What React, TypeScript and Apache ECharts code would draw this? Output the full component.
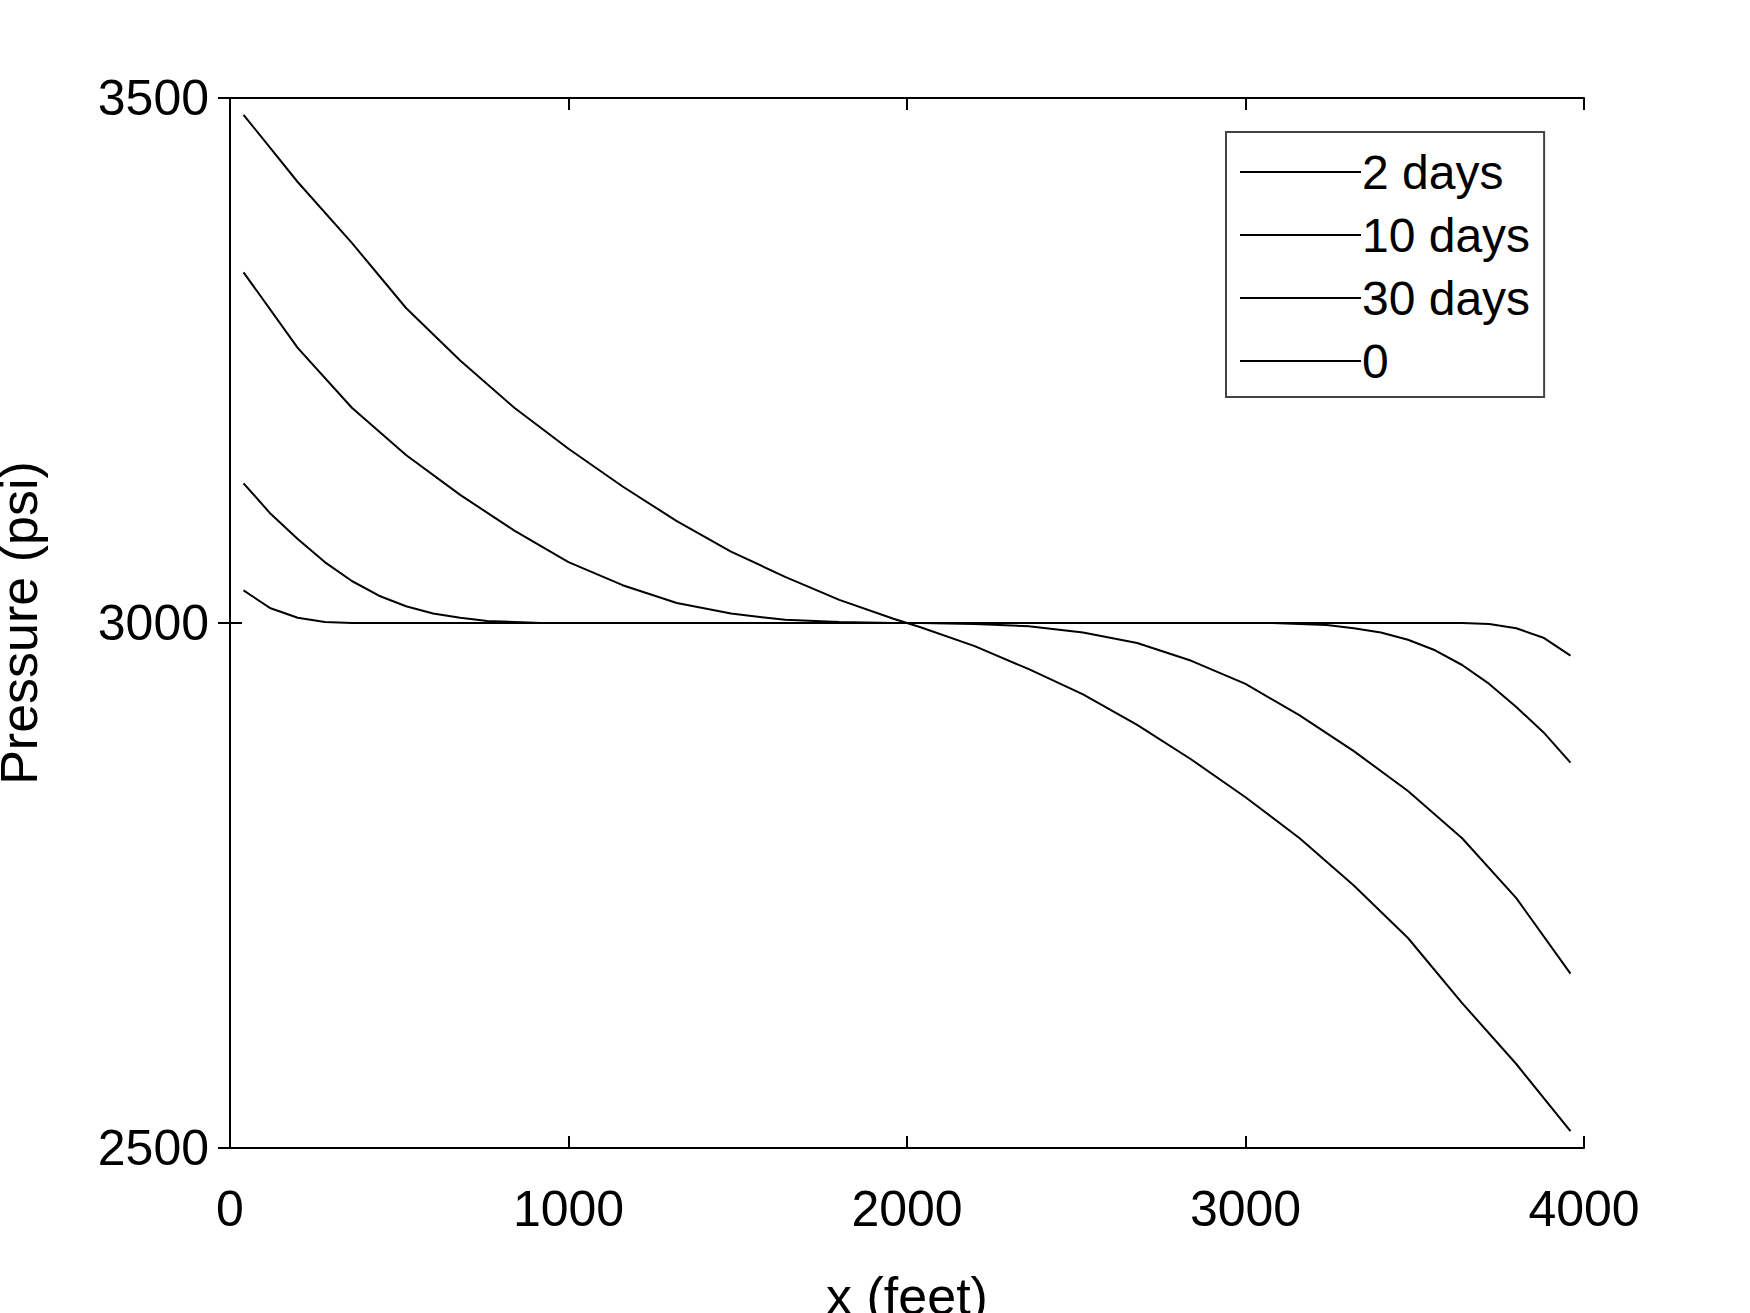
import React, { useEffect, useRef } from 'react';
import * as echarts from 'echarts';

const seriesNames = ['2 days', '10 days', '30 days', '0'];

// [x (feet), pressure (psi)]
const days2: number[][] = [
  [40, 3133], [120, 3104], [200, 3080], [280, 3058], [360, 3040], [440, 3026], [520, 3016],
  [600, 3009], [680, 3005], [760, 3002], [840, 3001], [920, 3000], [3080, 3000], [3160, 2999],
  [3240, 2998], [3320, 2995], [3400, 2991], [3480, 2984], [3560, 2974], [3640, 2960],
  [3720, 2942], [3800, 2920], [3880, 2896], [3960, 2867]
];

const days10: number[][] = [
  [40, 3334], [200, 3262], [360, 3205], [520, 3160], [680, 3122], [840, 3088], [1000, 3058],
  [1160, 3036], [1320, 3019], [1480, 3009], [1640, 3003], [1800, 3001], [1960, 3000],
  [2040, 3000], [2200, 2999], [2360, 2997], [2520, 2991], [2680, 2981], [2840, 2964],
  [3000, 2942], [3160, 2912], [3320, 2878], [3480, 2840], [3640, 2795], [3800, 2738], [3960, 2666]
];

const days30: number[][] = [
  [40, 3484], [200, 3420], [360, 3362], [520, 3300], [680, 3250], [840, 3205], [1000, 3166],
  [1160, 3130], [1320, 3097], [1480, 3068], [1640, 3044], [1800, 3022], [1960, 3004],
  [2040, 2996], [2200, 2978], [2360, 2956], [2520, 2932], [2680, 2903], [2840, 2870],
  [3000, 2834], [3160, 2795], [3320, 2750], [3480, 2700], [3640, 2638], [3800, 2580], [3960, 2516]
];

const days0: number[][] = [
  [40, 3031], [120, 3014], [200, 3005], [280, 3001], [360, 3000], [3640, 3000], [3720, 2999],
  [3800, 2995], [3880, 2986], [3960, 2969]
];

const seriesData = [days2, days10, days30, days0];

const font = '"Liberation Sans", Arial, sans-serif';

export default function App() {
  const ref = useRef<HTMLDivElement>(null);

  useEffect(() => {
    document.body.style.margin = '0';
    if (!ref.current) return;
    const chart = echarts.init(ref.current, undefined, { renderer: 'svg' });

    const axisLine = { show: true, lineStyle: { color: '#000', width: 2 } };
    const tick = { show: true, inside: true, length: 12, lineStyle: { color: '#000', width: 2 } };
    const plain = (v: number) => String(v);

    chart.setOption({
      animation: false,
      backgroundColor: '#fff',
      grid: { left: 230, top: 98, right: 166, bottom: 165, outerBoundsMode: 'none', containLabel: false },
      legend: {
        orient: 'vertical',
        left: 1226,
        top: 132,
        data: seriesNames,
        icon: 'rect',
        itemWidth: 121,
        itemHeight: 2,
        itemGap: 13,
        padding: [15, 14, 11, 14],
        borderColor: '#444',
        borderWidth: 2,
        itemStyle: { color: '#000' },
        textStyle: { fontFamily: font, fontSize: 48, lineHeight: 50, color: '#000', padding: [0, 0, 0, -4] }
      },
      xAxis: [
        {
          type: 'value', min: 0, max: 4000, interval: 1000,
          name: 'x (feet)', nameLocation: 'middle', nameGap: 122,
          nameTextStyle: { fontFamily: font, fontSize: 52, color: '#000' },
          axisLine, axisTick: tick, splitLine: { show: false },
          axisLabel: { fontFamily: font, fontSize: 50, color: '#000', margin: 36, formatter: plain }
        },
        {
          type: 'value', min: 0, max: 4000, interval: 1000, position: 'top',
          axisLine, axisTick: tick, splitLine: { show: false }, axisLabel: { show: false }
        }
      ],
      yAxis: [
        {
          type: 'value', min: 2500, max: 3500, interval: 500,
          name: 'Pressure (psi)', nameLocation: 'middle', nameGap: 185,
          nameTextStyle: { fontFamily: font, fontSize: 52, color: '#000' },
          axisLine, axisTick: tick, splitLine: { show: false },
          axisLabel: { fontFamily: font, fontSize: 50, color: '#000', margin: 21, formatter: plain }
        },
        {
          type: 'value', min: 2500, max: 3500, interval: 500, position: 'right',
          axisLine, axisTick: tick, splitLine: { show: false }, axisLabel: { show: false }
        }
      ],
      series: seriesNames.map((name, i) => ({
        name,
        type: 'line',
        data: seriesData[i],
        showSymbol: false,
        symbol: 'none',
        color: '#000',
        lineStyle: { color: '#000', width: 2 }
      }))
    });

    return () => chart.dispose();
  }, []);

  return <div ref={ref} style={{ width: 1750, height: 1313 }} />;
}
